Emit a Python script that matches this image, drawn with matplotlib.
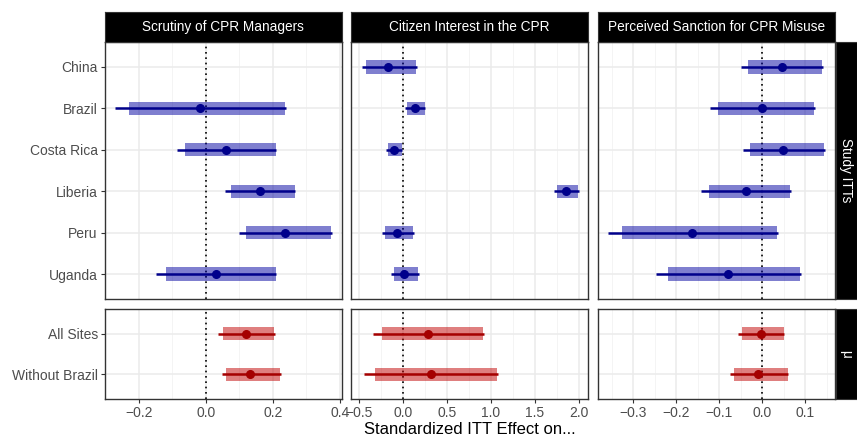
import numpy as np
import matplotlib
matplotlib.use("Agg")
import matplotlib.pyplot as plt
from matplotlib.patches import Rectangle
from matplotlib.ticker import FuncFormatter

plt.rcParams['font.family'] = ['Liberation Sans', 'DejaVu Sans']

nan = np.nan

# 데이터
countries = ["China", "Brazil", "Costa Rica", "Liberia", "Peru", "Uganda"]
pooled = ["All Sites", "Without Brazil"]
outcomes = ["Scrutiny of CPR Managers", "Citizen Interest in the CPR", "Perceived Sanction for CPR Misuse"]

# Scrutiny of CPR Managers
scr_est = [nan, -0.018, 0.061, 0.161, 0.237, 0.029]
scr_lo = [nan, -0.272, -0.086, 0.057, 0.100, -0.149]
scr_hi = [nan, 0.239, 0.209, 0.267, 0.377, 0.209]
scr_rlo = [nan, -0.229, -0.061, 0.076, 0.121, -0.119]
scr_rhi = [nan, 0.237, 0.208, 0.265, 0.374, 0.208]
scr_p_est = [0.119, 0.133]
scr_p_lo = [0.037, 0.047]
scr_p_hi = [0.207, 0.225]
scr_p_rlo = [0.050, 0.061]
scr_p_rhi = [0.204, 0.222]

# Citizen Interest in the CPR
int_est = [-0.171, 0.130, -0.106, 1.857, -0.068, 0.011]
int_lo = [-0.468, 0.023, -0.198, 1.720, -0.243, -0.140]
int_hi = [0.153, 0.251, -0.011, 2.005, 0.122, 0.175]
int_rlo = [-0.426, 0.042, -0.175, 1.754, -0.212, -0.110]
int_rhi = [0.149, 0.244, -0.015, 1.990, 0.111, 0.164]
int_p_est = [0.278, 0.313]
int_p_lo = [-0.346, -0.452]
int_p_hi = [0.918, 1.085]
int_p_rlo = [-0.247, -0.327]
int_p_rhi = [0.906, 1.073]

# Perceived Sanction for CPR Misuse
san_est = [0.045, -0.001, 0.049, -0.039, -0.163, -0.079]
san_lo = [-0.050, -0.121, -0.045, -0.143, -0.358, -0.247]
san_hi = [0.140, 0.123, 0.146, 0.067, 0.036, 0.089]
san_rlo = [-0.034, -0.102, -0.029, -0.125, -0.327, -0.219]
san_rhi = [0.139, 0.120, 0.144, 0.065, 0.034, 0.088]
san_p_est = [-0.004, -0.009]
san_p_lo = [-0.056, -0.076]
san_p_hi = [0.051, 0.060]
san_p_rlo = [-0.047, -0.065]
san_p_rhi = [0.050, 0.059]

study = [
    (scr_est, scr_lo, scr_hi, scr_rlo, scr_rhi),
    (int_est, int_lo, int_hi, int_rlo, int_rhi),
    (san_est, san_lo, san_hi, san_rlo, san_rhi),
]
meta = [
    (scr_p_est, scr_p_lo, scr_p_hi, scr_p_rlo, scr_p_rhi),
    (int_p_est, int_p_lo, int_p_hi, int_p_rlo, int_p_rhi),
    (san_p_est, san_p_lo, san_p_hi, san_p_rlo, san_p_rhi),
]

xlims = [(-0.302, 0.406), (-0.60, 2.108), (-0.383, 0.169)]
majors = [[-0.2, 0.0, 0.2, 0.4], [-0.5, 0.0, 0.5, 1.0, 1.5, 2.0], [-0.3, -0.2, -0.1, 0.0, 0.1]]
minors = [[-0.1, 0.1, 0.3], [-0.25, 0.25, 0.75, 1.25, 1.75], [-0.35, -0.25, -0.15, -0.05, 0.05, 0.15]]

W, H = 857, 438
fig = plt.figure(figsize=(W / 100, H / 100), dpi=100)


def px_axes(x0, y0, x1, y1):
    return fig.add_axes([x0 / W, 1 - y1 / H, (x1 - x0) / W, (y1 - y0) / H])


cols = [(104.7, 342), (350.7, 588), (597.7, 835)]
rows = [(42, 299), (309, 399)]

fmt = FuncFormatter(lambda v, p: f"{v:.1f}".replace("-", "\u2212"))

blue_line, blue_rect = "#00008B", "#0000A0"
red_line, red_rect = "#A50000", "#C00000"


def draw_panel(ax, data, labels, col, line_c, rect_c, bottom):
    est, lo, hi, rlo, rhi = data
    n = len(labels)
    ax.set_xlim(*xlims[col])
    ax.set_ylim(n - 0.4, -0.6)
    for v in minors[col]:
        ax.axvline(v, color="#F2F2F2", lw=0.6, zorder=0)
    for v in majors[col]:
        ax.axvline(v, color="#EBEBEB", lw=1.1, zorder=0)
    for i in range(n):
        ax.axhline(i, color="#EBEBEB", lw=1.1, zorder=0)
    ax.axvline(0, color="black", lw=1.2, ls=(0, (1, 2.2)), zorder=1)
    for i in range(n):
        if np.isnan(est[i]):
            continue
        ax.add_patch(Rectangle((rlo[i], i - 0.16), rhi[i] - rlo[i], 0.32,
                               facecolor=rect_c, alpha=0.5, edgecolor="none", zorder=2))
        ax.plot([lo[i], hi[i]], [i, i], color=line_c, lw=1.8, zorder=3, solid_capstyle="butt")
        ax.plot(est[i], i, "o", color=line_c, ms=5.5, zorder=4)
    ax.tick_params(colors="#333333", labelcolor="#4D4D4D", labelsize=10, length=3, width=0.8, pad=2)
    ax.set_yticks(range(n))
    if col == 0:
        ax.set_yticklabels(labels)
    else:
        ax.set_yticklabels([])
        ax.tick_params(axis="y", length=0)
    ax.set_xticks(majors[col])
    ax.xaxis.set_major_formatter(fmt)
    if not bottom:
        ax.tick_params(axis="x", length=0, labelbottom=False)
    for s in ax.spines.values():
        s.set_color("#333333")
        s.set_linewidth(1.0)
    ax.set_facecolor("white")


for c in range(3):
    ax_t = px_axes(cols[c][0], rows[0][0], cols[c][1], rows[0][1])
    draw_panel(ax_t, study[c], countries, c, blue_line, blue_rect, False)
    ax_b = px_axes(cols[c][0], rows[1][0], cols[c][1], rows[1][1])
    draw_panel(ax_b, meta[c], pooled, c, red_line, red_rect, True)

    strip = px_axes(cols[c][0], 12, cols[c][1], 42)
    strip.set_facecolor("black")
    strip.set_xticks([])
    strip.set_yticks([])
    for s in strip.spines.values():
        s.set_color("#333333")
    strip.text(0.5, 0.5, outcomes[c], color="white", fontsize=9.8, ha="center", va="center",
               transform=strip.transAxes)

# 오른쪽 스트립
for (y0, y1), lab in zip(rows, ["Study ITTs", "\u03bc"]):
    strip = px_axes(835.5, y0, 857, y1)
    strip.set_facecolor("black")
    strip.set_xticks([])
    strip.set_yticks([])
    for s in strip.spines.values():
        s.set_color("#333333")
    strip.text(0.5, 0.5, lab, color="white", fontsize=9.8, ha="center", va="center",
               rotation=-90, transform=strip.transAxes)

fig.text(470 / W, 1 - 429 / H, "Standardized ITT Effect on...", fontsize=12, ha="center", va="center")

fig.savefig("out.png", dpi=100, facecolor="white")
